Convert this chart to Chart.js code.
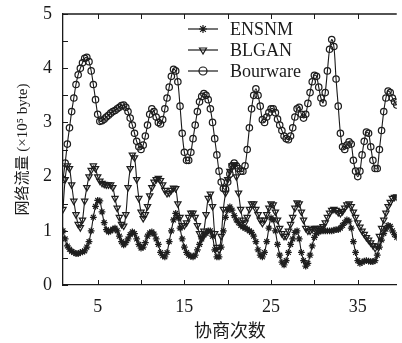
<!DOCTYPE html>
<html>
<head>
<meta charset="utf-8">
<script src="https://cdn.jsdelivr.net/npm/chart.js@4/dist/chart.umd.min.js"></script>
<style>
  html, body { margin: 0; padding: 0; background: #fff; }
  canvas { display: block; }
</style>
</head>
<body>
<canvas id="trafficChart" width="402" height="343"></canvas>
<script>
// Network traffic per negotiation round (x 10^5 byte),
// one value every quarter round starting at round 1
const ensnm = [
  1.0, 0.85, 0.72, 0.66,
  0.62, 0.6, 0.58, 0.58,
  0.6, 0.61, 0.63, 0.7,
  0.8, 1.0, 1.25, 1.45,
  1.56, 1.55, 1.35, 1.15,
  1.02, 0.98, 1.0, 1.03,
  1.05, 1.0, 0.9, 0.8,
  0.74, 0.78, 0.85, 0.93,
  0.98, 0.95, 0.85, 0.75,
  0.68, 0.7, 0.78, 0.9,
  0.96, 0.98, 0.94, 0.85,
  0.75, 0.6, 0.54, 0.52,
  0.6, 0.8, 1.0, 1.2,
  1.32, 1.25, 1.05, 0.85,
  0.7, 0.6, 0.55, 0.53,
  0.52, 0.55, 0.65, 0.75,
  0.85, 0.92, 0.95, 1.0,
  1.0, 0.9, 0.65, 0.52,
  0.52, 0.7, 1.0, 1.25,
  1.38, 1.44, 1.38, 1.28,
  1.2, 1.15, 1.1, 1.07,
  1.05, 1.03, 1.0, 0.97,
  0.9, 0.8, 0.65, 0.55,
  0.52, 0.6, 0.8, 1.05,
  1.24, 1.2, 1.0, 0.75,
  0.55, 0.42, 0.37, 0.45,
  0.6, 0.75, 0.85, 0.97,
  1.0, 0.85, 0.6, 0.45,
  0.35, 0.4, 0.55, 0.72,
  0.88, 0.95, 0.98, 1.0,
  1.0, 1.0, 1.0, 1.0,
  1.0, 1.01, 1.02, 1.02,
  1.05, 1.1, 1.15, 1.2,
  1.18, 1.05, 0.8, 0.6,
  0.45, 0.4, 0.42, 0.44,
  0.45, 0.44, 0.43, 0.43,
  0.45, 0.55, 0.7, 0.83,
  0.95, 1.03, 1.1, 1.08,
  1.0, 0.93, 0.88
];

const blgan = [
  1.4, 1.95, 2.2, 2.15,
  1.85, 1.55, 1.3, 1.12,
  1.06, 1.2, 1.55, 1.8,
  2.0, 2.12, 2.2, 2.15,
  2.0, 1.92, 1.88, 1.86,
  1.85, 1.85, 1.85, 1.8,
  1.6, 1.42, 1.25, 1.12,
  1.09, 1.3, 1.8, 2.15,
  2.4, 2.35, 1.95, 1.6,
  1.35, 1.23, 1.3, 1.45,
  1.65, 1.8, 1.9, 1.95,
  1.97, 1.93, 1.85, 1.75,
  1.69, 1.7, 1.75, 1.79,
  1.78, 1.5, 1.25, 1.1,
  1.1, 1.15, 1.25, 1.33,
  1.33, 1.25, 1.1, 0.95,
  0.86, 1.0, 1.3, 1.6,
  1.68, 1.45, 0.95, 0.7,
  0.65, 0.9, 1.4, 1.7,
  1.95, 2.1, 2.2, 2.22,
  2.0, 1.7, 1.4, 1.2,
  1.15, 1.25, 1.4, 1.5,
  1.5, 1.4, 1.3, 1.2,
  1.14, 1.2, 1.3, 1.42,
  1.5, 1.48, 1.35, 1.2,
  1.05, 0.95, 0.9, 0.9,
  1.0, 1.12, 1.25, 1.42,
  1.52, 1.5, 1.35, 1.2,
  1.05, 1.0, 1.0, 1.03,
  1.05, 1.05, 1.04, 1.05,
  1.08, 1.15, 1.25, 1.33,
  1.38, 1.4, 1.38, 1.34,
  1.32, 1.36, 1.42, 1.48,
  1.5, 1.45, 1.35, 1.25,
  1.15, 1.07, 1.0, 0.94,
  0.88, 0.83, 0.78, 0.73,
  0.68, 0.72, 0.9, 1.05,
  1.2, 1.33, 1.45, 1.53,
  1.6, 1.62, 1.63
];

const bourware = [
  1.95, 2.25, 2.6, 2.9,
  3.2, 3.45, 3.7, 3.88,
  4.0, 4.1, 4.18, 4.2,
  4.12, 3.95, 3.7, 3.42,
  3.15, 3.02, 3.03, 3.06,
  3.1, 3.13, 3.17, 3.2,
  3.22, 3.25, 3.28, 3.31,
  3.32, 3.28, 3.2, 3.08,
  2.95, 2.8, 2.65, 2.55,
  2.5, 2.58, 2.75, 2.95,
  3.15, 3.25, 3.2, 3.1,
  3.0, 2.97, 3.05, 3.25,
  3.45, 3.65, 3.85, 3.98,
  3.95, 3.75, 3.3, 2.8,
  2.45, 2.3, 2.3, 2.45,
  2.7, 2.95, 3.2, 3.38,
  3.48, 3.53, 3.5, 3.42,
  3.25, 3.0, 2.7, 2.4,
  2.1, 1.9, 1.78, 1.77,
  1.9, 2.05, 2.2, 2.25,
  2.2, 2.15, 2.1, 2.1,
  2.2, 2.5, 2.9, 3.25,
  3.5, 3.62, 3.5, 3.3,
  3.05, 3.0, 3.1, 3.18,
  3.25, 3.25, 3.18, 3.06,
  2.95, 2.85, 2.75, 2.7,
  2.68, 2.75, 2.9, 3.1,
  3.25, 3.28, 3.15, 3.08,
  3.15, 3.35, 3.55, 3.75,
  3.87, 3.85, 3.65, 3.45,
  3.36, 3.55, 3.95, 4.35,
  4.53, 4.4, 3.8, 3.3,
  2.8, 2.55, 2.5, 2.58,
  2.64, 2.6, 2.3, 2.1,
  2.0, 2.1, 2.4, 2.65,
  2.82, 2.8, 2.55, 2.3,
  2.15, 2.15, 2.5, 2.85,
  3.2, 3.45, 3.58, 3.55,
  3.45, 3.38, 3.32
];

// x axis: tick marks every 5 rounds, numbers only on some of them
const xTicks = [5, 10, 15, 20, 25, 30, 35];
const xLabelled = [5, 15, 25, 35];
const yTicks = [0, 0.5, 1, 1.5, 2, 2.5, 3, 3.5, 4, 4.5, 5];

const rounds = [];
for (let i = 0; i < bourware.length; i++) rounds.push(1 + i * 0.25);

const serif = '"Liberation Serif", "DejaVu Serif", "Noto Sans CJK SC", serif';
const ink = '#1a1a1a';

// ticks point into the plot, and the box is open on the right
const inwardTicks = {
    id: 'inwardTicks',
    afterDatasetsDraw(chart) {
        const { ctx, chartArea: a, scales: { x, y } } = chart;
        ctx.save();
        ctx.strokeStyle = ink;
        ctx.lineWidth = 1;
        ctx.beginPath();
        x.ticks.forEach(t => {
            const px = Math.round(x.getPixelForValue(t.value)) + 0.5;
            ctx.moveTo(px, a.bottom); ctx.lineTo(px, a.bottom - 5);
            ctx.moveTo(px, a.top); ctx.lineTo(px, a.top + 5);
        });
        y.ticks.forEach(t => {
            const py = Math.round(y.getPixelForValue(t.value)) + 0.5;
            ctx.moveTo(a.left, py); ctx.lineTo(a.left + 5, py);
        });
        ctx.stroke();
        ctx.lineWidth = 1.3;
        ctx.beginPath();
        ctx.moveTo(a.left, a.top); ctx.lineTo(a.right, a.top);
        ctx.stroke();
        ctx.restore();
    }
};

// legend drawn as "line through marker" like the original
const lineLegend = {
    id: 'lineLegend',
    afterDraw(chart) {
        const ctx = chart.ctx;
        ctx.save();
        ctx.font = '18px ' + serif;
        ctx.textBaseline = 'middle';
        chart.data.datasets.forEach((ds, i) => {
            const yy = 29 + i * 21;
            ctx.strokeStyle = ink;
            ctx.lineWidth = 1.2;
            ctx.beginPath();
            ctx.moveTo(188, yy); ctx.lineTo(218, yy);
            ctx.stroke();
            ctx.fillStyle = 'rgba(255,255,255,0)';
            Chart.helpers.drawPoint(ctx, {
                pointStyle: ds.pointStyle,
                rotation: ds.pointRotation || 0,
                radius: 4,
                borderWidth: 1.2
            }, 203, yy);
            ctx.fillStyle = ink;
            ctx.fillText(ds.label, 230, yy + 1);
        });
        ctx.restore();
    }
};

function series(label, data, style, rotation, radius) {
    return {
        label: label,
        data: data,
        borderColor: ink,
        borderWidth: 1.1,
        tension: 0.35,
        pointStyle: style,
        pointRotation: rotation,
        pointRadius: radius,
        pointBorderWidth: 1.25,
        pointBorderColor: '#1e1e1e',
        pointBackgroundColor: 'rgba(255,255,255,0)'
    };
}

new Chart(document.getElementById('trafficChart').getContext('2d'), {
    type: 'line',
    data: {
        labels: rounds,
        datasets: [
            series('ENSNM', ensnm, 'star', 0, 3.4),
            series('BLGAN', blgan, 'triangle', 180, 3.6),
            series('Bourware', bourware, 'circle', 0, 3.2)
        ]
    },
    options: {
        responsive: false,
        animation: false,
        devicePixelRatio: 1,
        layout: { padding: { top: 14, right: 0, left: 0, bottom: 0 } },
        plugins: { legend: { display: false }, tooltip: { enabled: false } },
        elements: { point: { hitRadius: 0 } },
        scales: {
            x: {
                type: 'linear',
                min: 1,
                max: 39.5,
                afterBuildTicks: s => { s.ticks = xTicks.map(v => ({ value: v })); },
                afterFit: s => { s.height = 58; s.paddingLeft = 0; s.paddingRight = 0; },
                grid: { display: false, drawTicks: false },
                border: { display: true, color: ink, width: 1.3 },
                ticks: {
                    autoSkip: false,
                    maxRotation: 0,
                    padding: 11,
                    color: ink,
                    font: { family: serif, size: 18 },
                    callback: v => xLabelled.includes(v) ? String(v) : ''
                },
                title: {
                    display: true,
                    text: '协商次数',
                    color: ink,
                    font: { family: serif, size: 18 },
                    padding: { top: 0, bottom: 0 }
                }
            },
            y: {
                min: 0,
                max: 5,
                afterBuildTicks: s => { s.ticks = yTicks.map(v => ({ value: v })); },
                afterFit: s => { s.width = 63; s.paddingTop = 0; s.paddingBottom = 0; },
                grid: { display: false, drawTicks: false },
                border: { display: true, color: ink, width: 1.3 },
                ticks: {
                    autoSkip: false,
                    padding: 11,
                    color: ink,
                    font: { family: serif, size: 18 },
                    callback: v => Number.isInteger(v) ? String(v) : ''
                },
                title: {
                    display: true,
                    text: '网络流量 (×10⁵ byte)',
                    color: ink,
                    font: { family: serif, size: 15 },
                    padding: { top: 14, bottom: 0 }
                }
            }
        }
    },
    plugins: [inwardTicks, lineLegend]
});
</script>
</body>
</html>
